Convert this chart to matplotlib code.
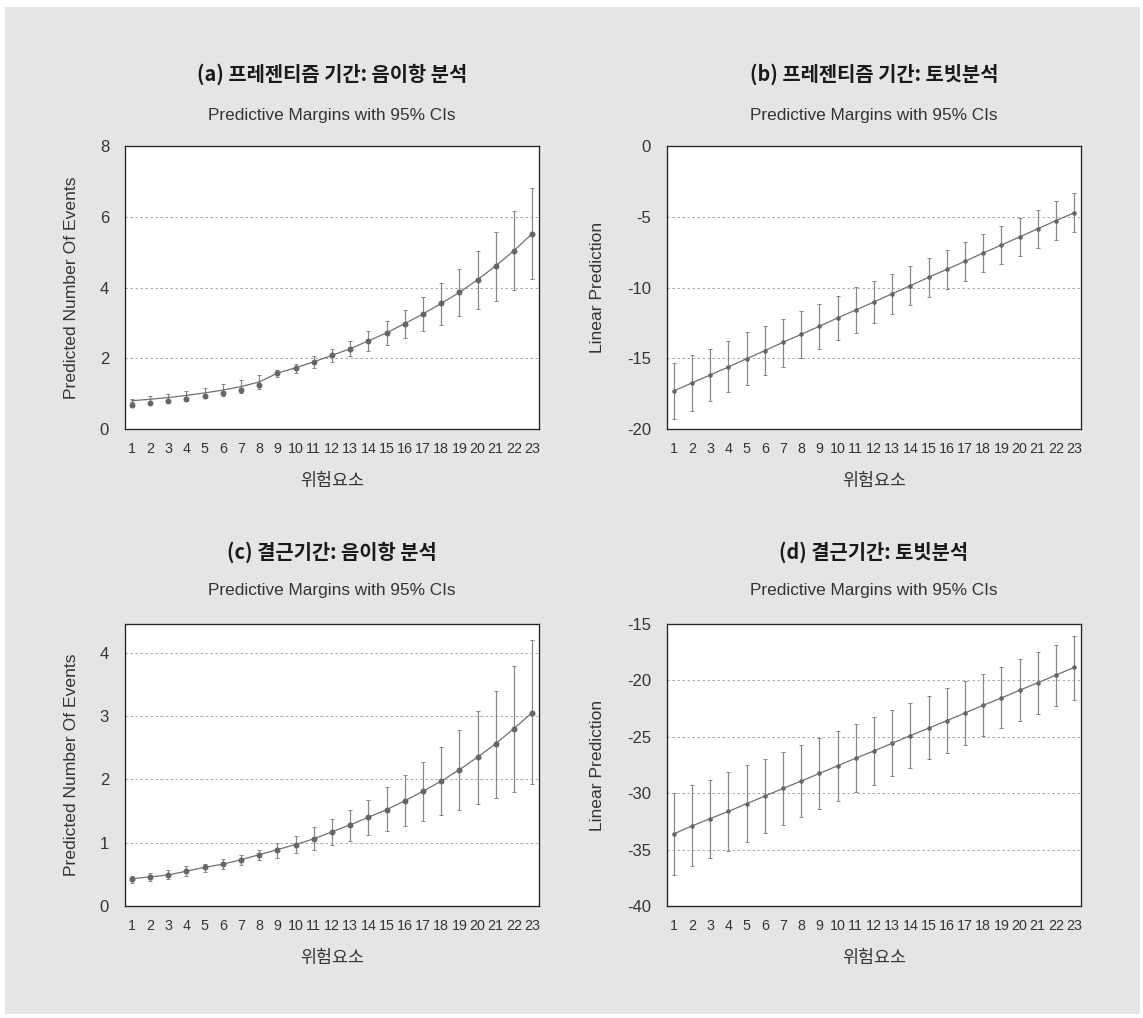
import matplotlib
matplotlib.use("Agg")
import matplotlib.pyplot as plt
from matplotlib.patches import Rectangle

# ---------------- data ----------------
risk = list(range(1, 24))
xticklabels = [str(v) for v in risk]

# (a) presenteeism, negative binomial
a_line = [0.80, 0.84, 0.89, 0.95, 1.02, 1.10, 1.20, 1.33, 1.58, 1.73, 1.90, 2.08,
          2.27, 2.49, 2.72, 2.98, 3.25, 3.55, 3.86, 4.22, 4.61, 5.04, 5.52]
a_dot = [0.68, 0.73, 0.79, 0.85, 0.94, 1.02, 1.11, 1.23, 1.58, 1.73, 1.90, 2.08,
         2.27, 2.49, 2.72, 2.98, 3.25, 3.55, 3.86, 4.22, 4.61, 5.04, 5.52]
a_hi = [0.85, 0.935, 1.00, 1.07, 1.16, 1.265, 1.38, 1.52, 1.67, 1.85, 2.05, 2.27,
        2.49, 2.76, 3.06, 3.37, 3.72, 4.12, 4.51, 5.04, 5.58, 6.15, 6.80]
a_lo = [0.75, 0.745, 0.78, 0.83, 0.88, 0.935, 1.02, 1.14, 1.46, 1.59, 1.73, 1.88,
        2.05, 2.20, 2.37, 2.56, 2.76, 2.93, 3.19, 3.39, 3.63, 3.92, 4.23]

# (b) presenteeism, tobit
b_val = [-17.31, -16.74, -16.18, -15.61, -15.03, -14.46, -13.87, -13.31, -12.74,
         -12.15, -11.59, -11.02, -10.44, -9.87, -9.28, -8.72, -8.15, -7.56, -7.00,
         -6.43, -5.85, -5.28, -4.72]
b_hi = [-15.36, -14.79, -14.32, -13.75, -13.17, -12.74, -12.20, -11.68, -11.14,
        -10.58, -9.99, -9.54, -9.02, -8.50, -7.92, -7.37, -6.79, -6.22, -5.68,
        -5.09, -4.50, -3.91, -3.30]
b_lo = [-19.26, -18.70, -18.02, -17.40, -16.86, -16.16, -15.59, -15.00, -14.32,
        -13.73, -13.19, -12.48, -11.85, -11.24, -10.69, -10.08, -9.52, -8.93, -8.34,
        -7.78, -7.19, -6.65, -6.10]

# (c) absenteeism, negative binomial
c_val = [0.43, 0.46, 0.49, 0.55, 0.61, 0.66, 0.73, 0.81, 0.89, 0.97, 1.06, 1.17,
         1.28, 1.40, 1.52, 1.66, 1.81, 1.97, 2.15, 2.35, 2.56, 2.80, 3.05]
c_hi = [0.48, 0.515, 0.57, 0.63, 0.67, 0.74, 0.81, 0.89, 1.00, 1.11, 1.24, 1.37,
        1.52, 1.68, 1.87, 2.06, 2.28, 2.51, 2.78, 3.08, 3.40, 3.78, 4.19]
c_lo = [0.36, 0.395, 0.43, 0.47, 0.53, 0.585, 0.65, 0.72, 0.76, 0.84, 0.885, 0.96,
        1.03, 1.12, 1.18, 1.26, 1.34, 1.43, 1.52, 1.61, 1.71, 1.80, 1.92]

# (d) absenteeism, tobit
d_val = [-33.60, -32.90, -32.25, -31.61, -30.93, -30.25, -29.58, -28.92, -28.25,
         -27.57, -26.89, -26.25, -25.57, -24.89, -24.24, -23.57, -22.89, -22.21,
         -21.56, -20.88, -20.21, -19.53, -18.85]
d_hi = [-29.96, -29.31, -28.84, -28.13, -27.51, -26.98, -26.36, -25.72, -25.10,
        -24.48, -23.89, -23.27, -22.65, -21.98, -21.39, -20.71, -20.04, -19.47,
        -18.80, -18.14, -17.47, -16.86, -16.02]
d_lo = [-37.26, -36.49, -35.73, -35.08, -34.35, -33.52, -32.84, -32.14, -31.37,
        -30.72, -29.93, -29.25, -28.48, -27.77, -26.95, -26.40, -25.69, -24.95,
        -24.21, -23.57, -23.00, -22.30, -21.71]

titles = ["(a) 프레젠티즘 기간: 음이항 분석", "(b) 프레젠티즘 기간: 토빗분석",
          "(c) 결근기간: 음이항 분석", "(d) 결근기간: 토빗분석"]
subtitle = "Predictive Margins with 95% CIs"
xlabel = "위험요소"
ylabels = ["Predicted Number Of Events", "Linear Prediction",
           "Predicted Number Of Events", "Linear Prediction"]
yticks_list = [[0, 2, 4, 6, 8], [-20, -15, -10, -5, 0],
               [0, 1, 2, 3, 4], [-40, -35, -30, -25, -20, -15]]
ylims = [(0, 8), (-20, 0), (0, 4.45), (-40, -15)]

# ---------------- figure ----------------
W, H = 1143, 1018
fig = plt.figure(figsize=(W / 100, H / 100), dpi=100, facecolor="white")
fig.patches.append(Rectangle((5 / W, 1 - 1014 / H), (1140 - 5) / W, (1014 - 7) / H,
                             transform=fig.transFigure, facecolor="#e5e5e5",
                             edgecolor="none", zorder=-10))

FAM = ["Liberation Sans", "Noto Sans CJK KR"]
KFAM = ["Noto Sans CJK KR", "Liberation Sans"]
PX = 0.72  # points per pixel

# axes rectangles in pixels: (left, top, right, bottom)
rects = [(125, 146, 539, 429), (667, 146, 1081, 429),
         (125, 624, 539, 906), (667, 624, 1081, 906)]
title_y = [74, 74, 552, 552]
sub_y = [116, 116, 590, 590]
xlab_y = [481, 481, 958, 958]
ylab_x = [71, 597, 71, 597]

series = [
    (a_line, a_dot, a_lo, a_hi, 4.3),
    (b_val, b_val, b_lo, b_hi, 3.3),
    (c_val, c_val, c_lo, c_hi, 4.3),
    (d_val, d_val, d_lo, d_hi, 3.3),
]

for i, (l, t, r, b) in enumerate(rects):
    ax = fig.add_axes([l / W, 1 - b / H, (r - l) / W, (b - t) / H])
    ax.set_facecolor("white")
    line_v, dot_v, lo, hi, ms = series[i]
    center = line_v
    yerr = [[c - lo_ for c, lo_ in zip(center, lo)], [hi_ - c for c, hi_ in zip(center, hi)]]
    ax.errorbar(risk, center, yerr=yerr, fmt="none", ecolor="#878787",
                elinewidth=1.2 * PX, capsize=1.6, capthick=1.0 * PX, zorder=2)
    ax.plot(risk, line_v, color="#707070", lw=1.25 * PX, zorder=3)
    ax.plot(risk, dot_v, "o", color="#666666", ms=ms, mec="#666666", mew=0, zorder=4)

    ax.set_xlim(0.62, 23.38)
    ax.set_ylim(*ylims[i])
    ax.set_xticks(risk)
    ax.set_xticklabels(xticklabels, family=FAM, fontsize=10.3, color="#333333")
    ax.set_yticks(yticks_list[i])
    ax.set_yticklabels([str(v) for v in yticks_list[i]], family=FAM, fontsize=12,
                       color="#333333")
    ax.tick_params(axis="both", length=0)
    ax.tick_params(axis="y", pad=11.5)
    ax.tick_params(axis="x", pad=9)
    ax.yaxis.grid(True, color="#ababab", lw=1.0 * PX, dashes=(2.5, 2.5))
    ax.xaxis.grid(False)
    ax.set_axisbelow(True)
    for sp in ax.spines.values():
        sp.set_color("#222222")
        sp.set_linewidth(1.3 * PX)

    cx = (l + r) / 2 / W
    fig.text(cx, 1 - title_y[i] / H, titles[i], ha="center", va="center",
             family=KFAM, fontsize=14.3, fontweight="bold", color="#1a1a1a")
    fig.text(cx, 1 - sub_y[i] / H, subtitle, ha="center", va="center",
             family=FAM, fontsize=12.4, color="#333333")
    fig.text(cx, 1 - xlab_y[i] / H, xlabel, ha="center", va="center",
             family=KFAM, fontsize=12.5, color="#333333")
    fig.text(ylab_x[i] / W, 1 - (t + b) / 2 / H, ylabels[i], ha="center", va="center",
             rotation=90, family=FAM, fontsize=12.6, color="#333333")

fig.savefig("out.png", dpi=100, facecolor="white")
